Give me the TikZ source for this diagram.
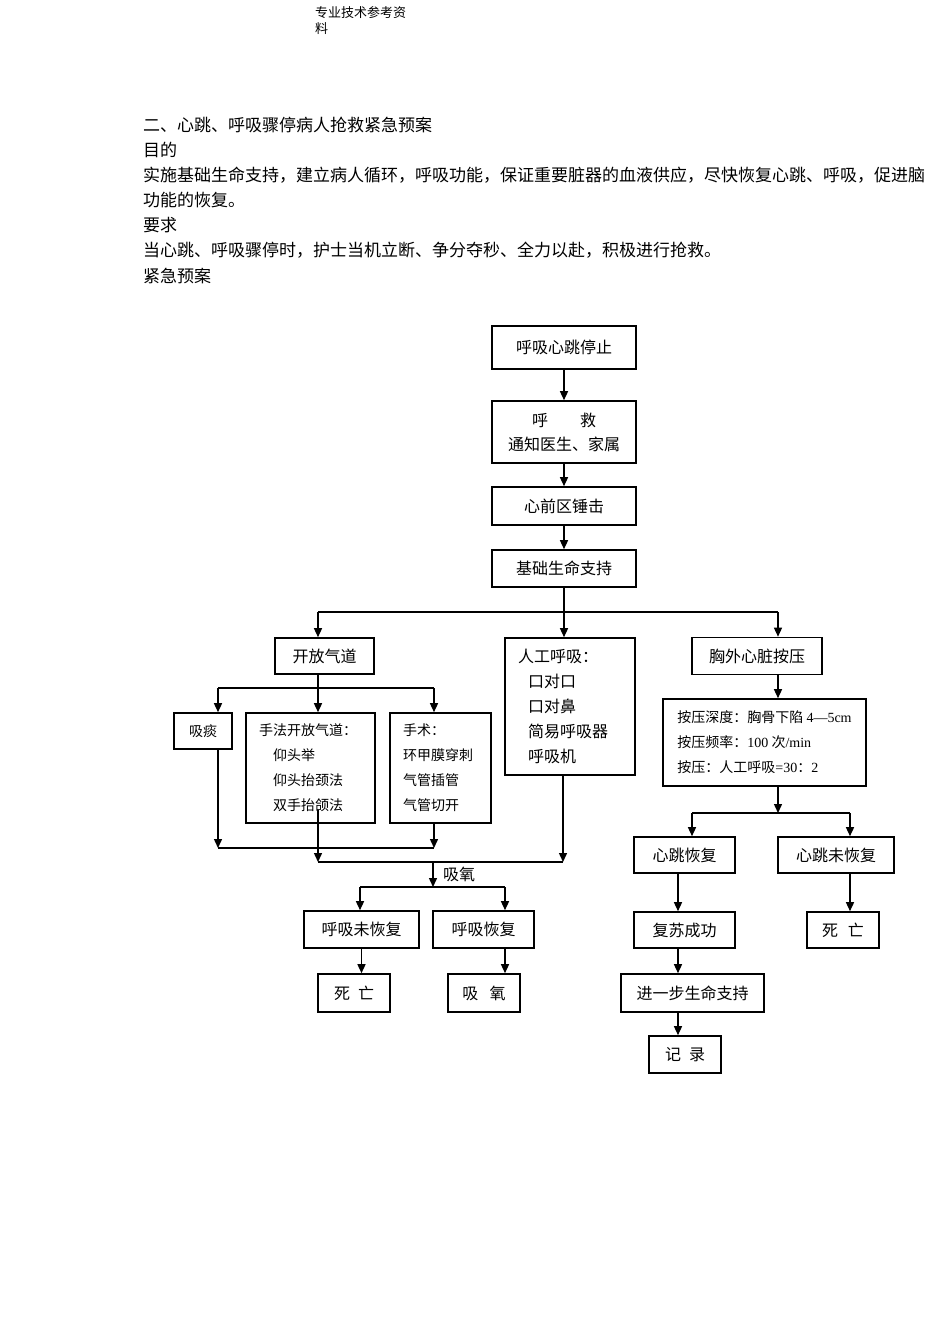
\documentclass[tikz,border=0pt]{standalone}
\usepackage{fontspec}
\setmainfont{Noto Sans CJK SC}
\newfontfamily\lat{Liberation Serif}
\usetikzlibrary{arrows.meta}

\begin{document}
\begin{tikzpicture}[x=1pt,y=-1pt]
\tikzset{box/.style={draw,line width=1.6pt,inner sep=0pt,align=center,font=\fontsize{16}{24}\selectfont},
list/.style={draw,line width=1.6pt,inner xsep=13pt,inner ysep=0pt,align=left,font=\fontsize{14}{25}\selectfont},
txt/.style={anchor=west,inner sep=0pt,font=\fontsize{17}{25}\selectfont},
link/.style={line width=1.4pt},
arr/.style={line width=1.4pt,-{Triangle[length=9pt,width=8pt]}}}
\useasboundingbox (0,0) rectangle (950,1344);

% text above the chart
\node (head1) at (315,13) [txt,font=\fontsize{13}{16}\selectfont] {专业技术参考资};
\node (head2) at (315,29) [txt,font=\fontsize{13}{16}\selectfont] {料};
\node (title) at (143,125) [txt] {二、心跳、呼吸骤停病人抢救紧急预案};
\node (aim) at (143,150) [txt] {目的};
\node (aim1) at (143,175) [txt] {实施基础生命支持，建立病人循环，呼吸功能，保证重要脏器的血液供应，尽快恢复心跳、呼吸，促进脑};
\node (aim2) at (143,200) [txt] {功能的恢复。};
\node (req) at (143,225) [txt] {要求};
\node (req1) at (143,250) [txt] {当心跳、呼吸骤停时，护士当机立断、争分夺秒、全力以赴，积极进行抢救。};
\node (plan) at (143,276) [txt] {紧急预案};

% main column
\node (stop) at (564,347.5) [box,minimum width=144,minimum height=43] {呼吸心跳停止};
\node (call) at (564,432) [box,minimum width=144,minimum height=62] {呼\hspace{2em}救\\通知医生、家属};
\node (thump) at (564,506) [box,minimum width=144,minimum height=38] {心前区锤击};
\node (basic) at (564,568.5) [box,minimum width=144,minimum height=37] {基础生命支持};

% airway branch
\node (airway) at (324.5,656) [box,minimum width=99,minimum height=36] {开放气道};
\node (suck) at (203,731) [box,minimum width=58,minimum height=36,font=\fontsize{14}{20}\selectfont] {吸痰};
\node (manual) at (310.5,768) [list,text width=103,minimum height=110] {手法开放气道：\\\hspace*{14pt}仰头举\\\hspace*{14pt}仰头抬颈法\\\hspace*{14pt}双手抬颌法};
\node (surg) at (440.5,768) [list,text width=75,minimum height=110] {手术：\\环甲膜穿刺\\气管插管\\气管切开};

% breathing branch
\node (vent) at (570,706.5) [list,text width=104,minimum height=137,font=\fontsize{16}{25}\selectfont] {人工呼吸：\\\hspace*{10pt}口对口\\\hspace*{10pt}口对鼻\\\hspace*{10pt}简易呼吸器\\\hspace*{10pt}呼吸机};
\node (oxlab) at (459,874) [box,draw=none] {吸氧};
\node (nrec) at (361.5,929.5) [box,minimum width=115,minimum height=37] {呼吸未恢复};
\node (rec) at (483.5,929.5) [box,minimum width=101,minimum height=37] {呼吸恢复};
\node (dead1) at (354,993) [box,minimum width=72,minimum height=38] {死\hspace{0.5em}亡};
\node (oxy) at (484,993) [box,minimum width=72,minimum height=38] {吸\hspace{0.7em}氧};

% compression branch
\node (chest) at (757,656) [box,minimum width=130,minimum height=37] {胸外心脏按压};
\node (comp) at (764.5,742.5) [list,minimum width=203,minimum height=87] {按压深度：胸骨下陷 {\lat 4—5cm}\\按压频率：{\lat 100} 次{\lat /min}\\按压：人工呼吸{\lat =30}：{\lat 2}};
\node (hrec) at (684.5,855) [box,minimum width=101,minimum height=36] {心跳恢复};
\node (hnrec) at (836,855) [box,minimum width=116,minimum height=36] {心跳未恢复};
\node (succ) at (684.5,930) [box,minimum width=101,minimum height=36] {复苏成功};
\node (dead2) at (843,930) [box,minimum width=72,minimum height=36] {死\hspace{0.6em}亡};
\node (adv) at (692.5,993) [box,minimum width=143,minimum height=38] {进一步生命支持};
\node (note) at (685,1054.5) [box,minimum width=72,minimum height=37] {记\hspace{0.5em}录};

% junctions
\coordinate (hub) at (564,612);
\coordinate (hubl) at (318,612);
\coordinate (hubr) at (778,612);
\coordinate (ab) at (318,688);
\coordinate (abl) at (218,688);
\coordinate (abr) at (434,688);
\coordinate (ml) at (218,848);
\coordinate (mr) at (434,848);
\coordinate (mm) at (318,810);
\coordinate (ox1) at (318,862);
\coordinate (ox2) at (563,862);
\coordinate (ox) at (433,862);
\coordinate (oxs) at (433,887);
\coordinate (oxl) at (360,887);
\coordinate (oxr) at (505,887);
\coordinate (cr) at (778,813);
\coordinate (crl) at (692,813);
\coordinate (crr) at (850,813);
\coordinate (col) at (678,0);

\draw[arr] (stop) -- (call);
\draw[arr] (call) -- (thump);
\draw[arr] (thump) -- (basic);
\draw[link] (basic) -- (hub);
\draw[link] (hubl) -- (hubr);
\draw[arr] (hubl) -- (hubl |- airway.north);
\draw[arr] (hub) -- (hub |- vent.north);
\draw[arr] (hubr) -- (hubr |- chest.north);

\draw[link] (ab |- airway.south) -- (ab);
\draw[link] (abl) -- (abr);
\draw[arr] (abl) -- (abl |- suck.north);
\draw[arr] (ab) -- (ab |- manual.north);
\draw[arr] (abr) -- (abr |- surg.north);
\draw[arr] (ml |- suck.south) -- (ml);
\draw[arr] (mr |- surg.south) -- (mr);
\draw[link] (ml) -- (mr);
\draw[arr] (mm) -- (ox1);
\draw[arr] (ox2 |- vent.south) -- (ox2);
\draw[link] (ox1) -- (ox2);
\draw[arr] (ox) -- (oxs);
\draw[link] (oxl) -- (oxr);
\draw[arr] (oxl) -- (oxl |- nrec.north);
\draw[arr] (oxr) -- (oxr |- rec.north);
\draw[arr] (nrec) -- (nrec |- dead1.north);
\draw[arr] (oxr |- rec.south) -- (oxr |- oxy.north);

\draw[arr] (hubr |- chest.south) -- (hubr |- comp.north);
\draw[arr] (cr |- comp.south) -- (cr);
\draw[link] (crl) -- (crr);
\draw[arr] (crl) -- (crl |- hrec.north);
\draw[arr] (crr) -- (crr |- hnrec.north);
\draw[arr] (col |- hrec.south) -- (col |- succ.north);
\draw[arr] (col |- succ.south) -- (col |- adv.north);
\draw[arr] (col |- adv.south) -- (col |- note.north);
\draw[arr] (crr |- hnrec.south) -- (crr |- dead2.north);
\end{tikzpicture}
\end{document}
